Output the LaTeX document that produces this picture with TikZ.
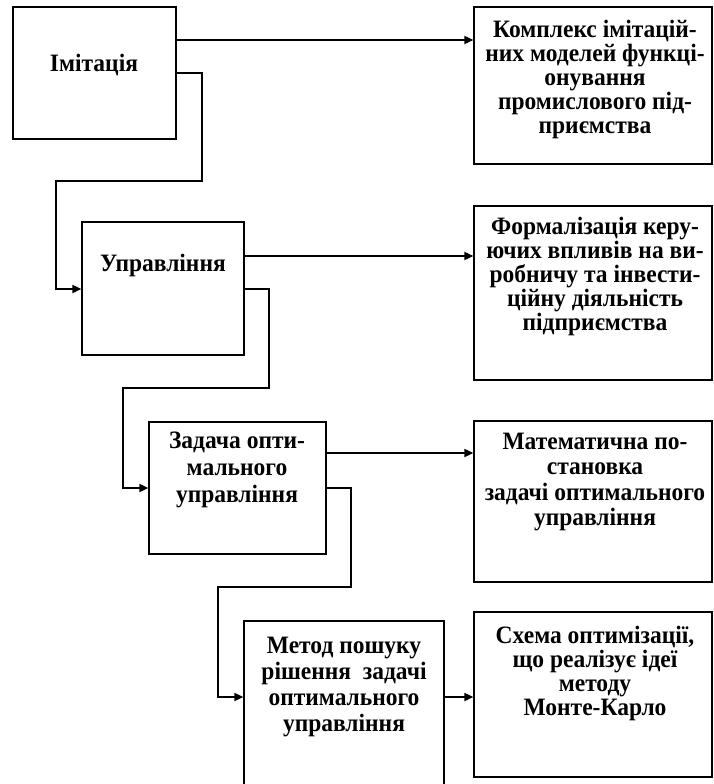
\documentclass[tikz,border=0pt]{standalone}
\usepackage{fontspec}
\setmainfont[FakeStretch=0.94]{Liberation Serif}
\usetikzlibrary{arrows.meta}

\begin{document}
\begin{tikzpicture}[x=1pt,y=-1pt]
        \tikzstyle{box} = [draw, line width=1.2pt, inner sep=0pt]
        \tikzset{txt/.style={align=center, inner sep=0pt, font=\bfseries\fontsize{25}{#1}\selectfont}, txt/.default=24}
        \tikzstyle{link} = [line width=1.7pt, -{Triangle[length=9pt,width=8pt]}]
        \clip (0,0) rectangle (713,784);
        % left column
        \node[box, minimum width=163pt, minimum height=132pt] (b1) at (94.5,73) {};
        \node[box, minimum width=162pt, minimum height=133pt] (b2) at (163,288.5) {};
        \node[box, minimum width=177pt, minimum height=132pt] (b3) at (237.5,488) {};
        \node[box, minimum width=200pt, minimum height=179pt] (b4) at (344,710.5) {};
        % right column
        \node[box, minimum width=238pt, minimum height=157pt] (r1) at (593,85.5) {};
        \node[box, minimum width=238pt, minimum height=174pt] (r2) at (593,293) {};
        \node[box, minimum width=238pt, minimum height=161pt] (r3) at (593,501.5) {};
        \node[box, minimum width=238pt, minimum height=165pt] (r4) at (593,694.5) {};
        % texts
        \node[txt] (t1) at (94,65) {Імітація};
        \node[txt] (t2) at (163,265) {Управління};
        \node[txt=27] (t3) at (237,470) {Задача опти-\\мального\\управління};
        \node[txt=26] (t4) at (344,687.5) {Метод пошуку\\рішення~ задачі\\оптимального\\управління};
        \node[txt] (s1) at (595,79.5) {Комплекс імітацій-\\них моделей функці-\\онування\\промислового під-\\приємства};
        \node[txt] (s2) at (595,276.5) {Формалізація керу-\\ючих впливів на ви-\\робничу та інвести-\\ційну діяльність\\підприємства};
        \node[txt=25.5] (s3) at (595,482) {Математична по-\\становка\\задачі оптимального\\управління};
        \node[txt] (s4) at (595,673) {Схема оптимізації,\\що реалізує ідеї\\методу\\Монте-Карло};
        % arrows to the right
        \foreach \from/\to/\y in {b1/r1/40, b2/r2/256, b3/r3/453, b4/r4/697}
            \draw[link] (\from.east |- 0,\y) -- (\to.west |- 0,\y);
        % steps down
        \draw[link] (b1.east |- 0,73) -| (202,181) -| (56,289) -- (b2.west |- 0,289);
        \draw[link] (b2.east |- 0,289) -| (269,388) -| (123,488) -- (b3.west |- 0,488);
        \draw[link] (b3.east |- 0,488) -| (351,587) -| (218,697) -- (b4.west |- 0,697);
\end{tikzpicture}
\end{document}
